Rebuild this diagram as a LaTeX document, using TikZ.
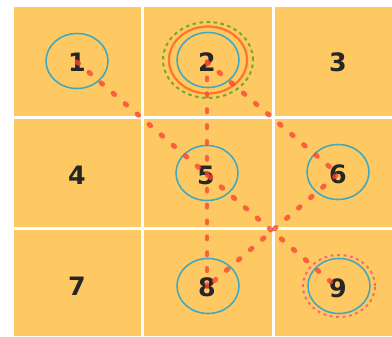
\documentclass[tikz,border=0pt]{standalone}
\usepackage{fontspec}
\setmainfont{DejaVu Sans}
\usetikzlibrary{shapes.geometric}
\definecolor{cellfill}{RGB}{254,200,98}
\definecolor{ringblue}{RGB}{64,168,190}
\definecolor{ringorange}{RGB}{250,120,40}
\definecolor{ringgreen}{RGB}{110,170,50}
\definecolor{ringred}{RGB}{250,105,105}
\definecolor{trailred}{RGB}{250,70,50}
\tikzset{
  cell/.style={fill=cellfill, draw=none},
  digit/.style={font=\bfseries\fontsize{18}{18}\selectfont, text=black!85, inner sep=0pt},
  ring/.style={ellipse, draw=ringblue, line width=1.1pt,
    minimum width=1.55cm, minimum height=1.375cm},
  startring/.style={ellipse, draw=ringorange, line width=1.6pt,
    minimum width=1.95cm, minimum height=1.675cm},
  startmark/.style={ellipse, draw=ringgreen, line width=1.4pt, dash pattern=on 2.5pt off 2.5pt,
    minimum width=2.25cm, minimum height=1.9cm},
  endmark/.style={ellipse, draw=ringred, line width=1.4pt, dash pattern=on 2pt off 2.6pt,
    minimum width=1.8cm, minimum height=1.55cm},
  trail/.style={draw=trailred, opacity=0.8, line width=3.5pt, line cap=round,
    dash pattern=on 1.5pt off 9.8pt}
}
\begin{document}
\begin{tikzpicture}[x=0.025cm, y=-0.025cm]
  \useasboundingbox (0,0) rectangle (392,336);
  % grid cells
  \foreach \xa/\xb in {14/141, 144/272, 275/392}
    \foreach \ya/\yb in {7/116, 119/227, 230/336}
      \fill[cell] (\xa,\ya) rectangle (\xb,\yb);

  % rings
  \node[startmark] (g2) at (208,60) {};
  \node[startring] (o2) at (208,60) {};
  \node[endmark] (e9) at (339,286) {};
  \node[ring] (r1) at (77,61) {};
  \node[ring] (r2) at (208,60) {};
  \node[ring] (r5) at (207,173) {};
  \node[ring] (r6) at (338,172) {};
  \node[ring] (r8) at (208,286) {};
  \node[ring] (r9) at (339,286) {};

  % digits
  \node[digit] (n1) at (77,62) {1};
  \node[digit] (n2) at (207,62) {2};
  \node[digit] (n3) at (338,62) {3};
  \node[digit] (n4) at (77,175) {4};
  \node[digit] (n5) at (206,175) {5};
  \node[digit] (n6) at (338,174) {6};
  \node[digit] (n7) at (77,286) {7};
  \node[digit] (n8) at (207,287) {8};
  \node[digit] (n9) at (338,288) {9};

  % dotted trails
  \draw[trail] (n1.center) -- (n9.center);
  \draw[trail] (n2.center) -- (n8.center);
  \draw[trail] (n2.center) -- (n6.center) -- (n8.center);
\end{tikzpicture}
\end{document}
